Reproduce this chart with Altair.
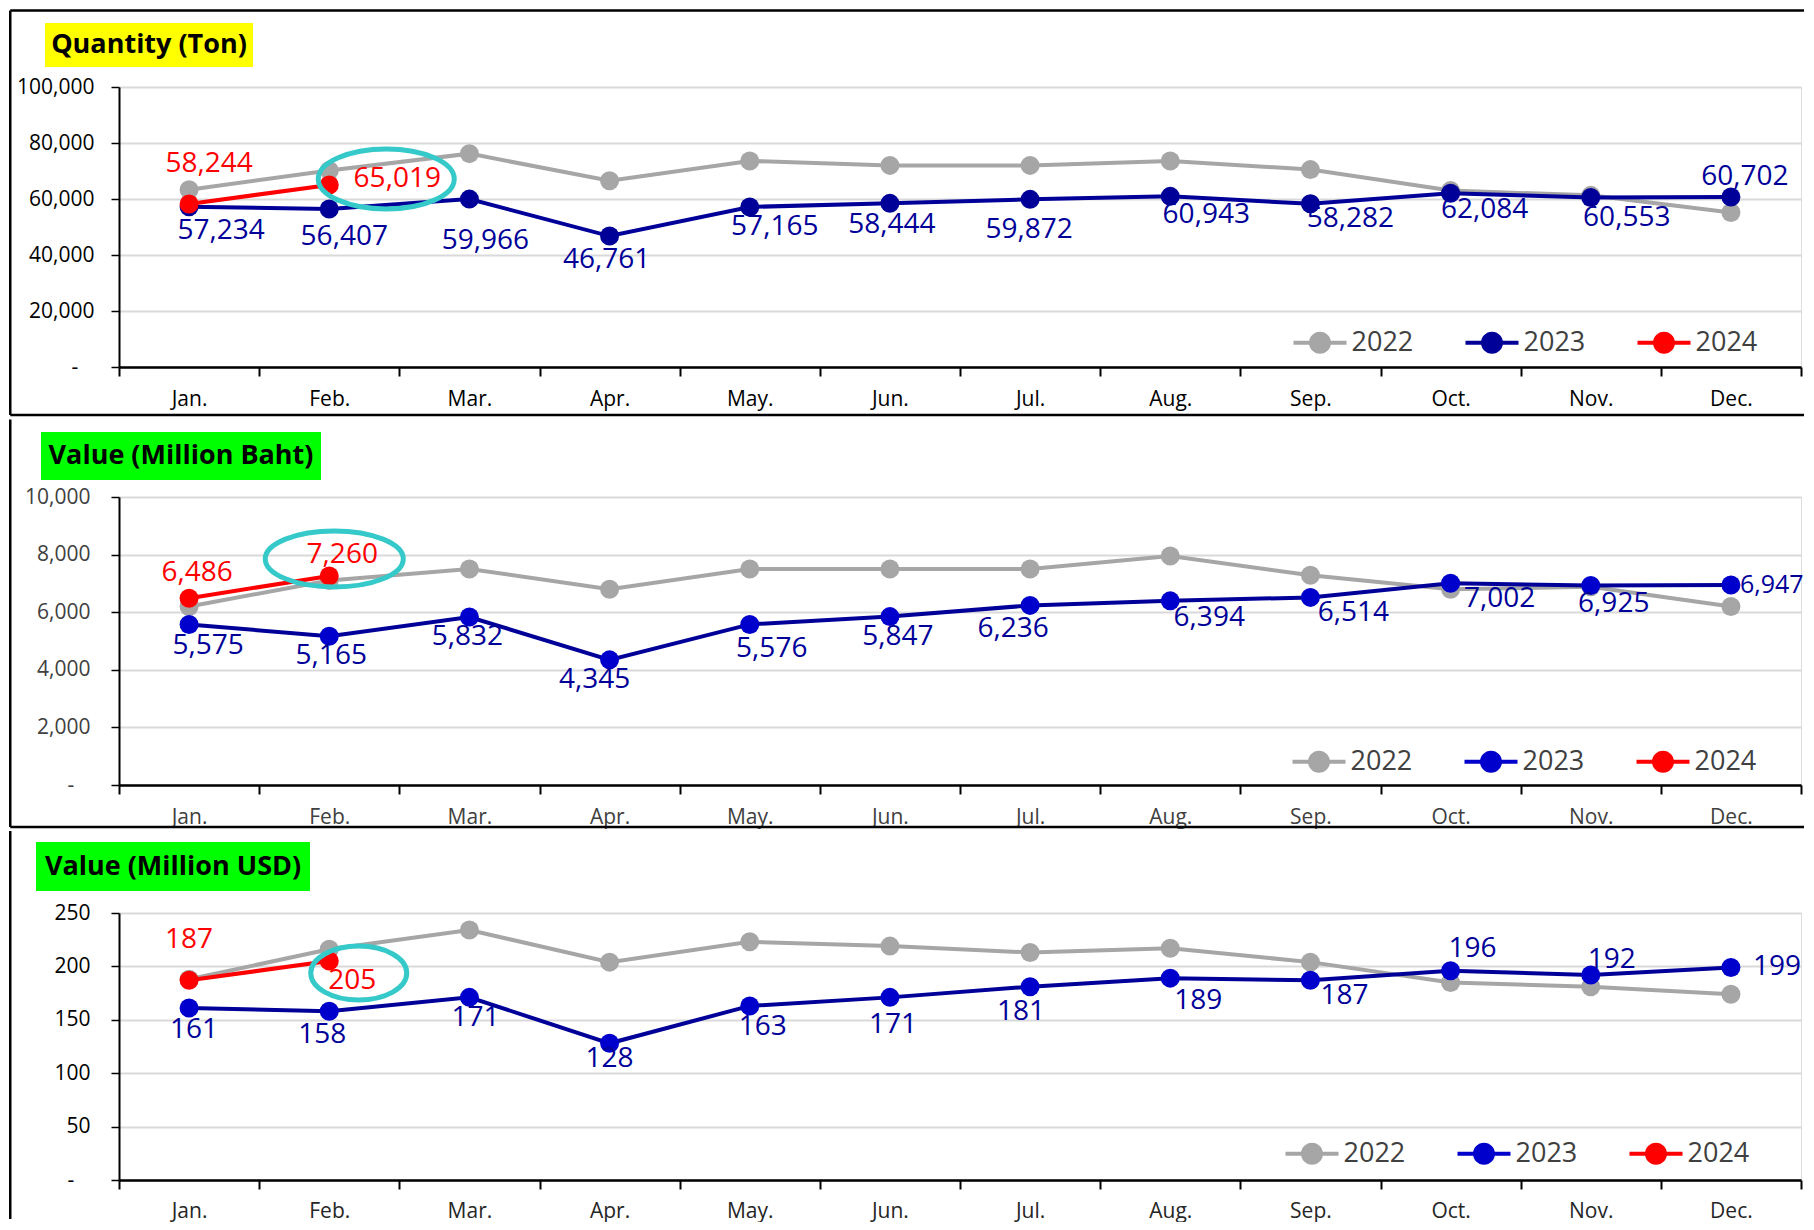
import altair as alt
import pandas as pd

# ---------------- data ----------------
months = ["Jan.", "Feb.", "Mar.", "Apr.", "May.", "Jun.", "Jul.", "Aug.", "Sep.", "Oct.", "Nov.", "Dec."]
years = ["2022", "2023", "2024"]

qty_2022 = [63300, 70200, 76200, 66500, 73600, 72000, 72000, 73600, 70500, 63000, 61300, 55200]
qty_2023 = [57234, 56407, 59966, 46761, 57165, 58444, 59872, 60943, 58282, 62084, 60553, 60702]
qty_2024 = [58244, 65019]

thb_2022 = [6200, 7100, 7500, 6800, 7500, 7500, 7500, 7950, 7280, 6800, 6880, 6200]
thb_2023 = [5575, 5165, 5832, 4345, 5576, 5847, 6236, 6394, 6514, 7002, 6925, 6947]
thb_2024 = [6486, 7260]

usd_2022 = [188, 216, 234, 204, 223, 219, 213, 217, 204, 185, 181, 174]
usd_2023 = [161, 158, 171, 128, 163, 171, 181, 189, 187, 196, 192, 199]
usd_2024 = [187, 205]

qty_ticks = [0, 20000, 40000, 60000, 80000, 100000]
thb_ticks = [0, 2000, 4000, 6000, 8000, 10000]
usd_ticks = [0, 50, 100, 150, 200, 250]

titles = ["Quantity (Ton)", "Value (Million Baht)", "Value (Million USD)"]

# ---------------- style helpers ----------------
FONT = "Open Sans"
ORIGIN_X = 118
W = 1800 - ORIGIN_X
LEFT = 9.25 - ORIGIN_X
RIGHT = W + 3


def ellipse(cx, cy, rx, ry):
    c = 0.5523
    f = lambda v: f"{v:.4f}"
    return (f"M {f(cx+rx)} {f(cy)} "
            f"C {f(cx+rx)} {f(cy+c*ry)} {f(cx+c*rx)} {f(cy+ry)} {f(cx)} {f(cy+ry)} "
            f"C {f(cx-c*rx)} {f(cy+ry)} {f(cx-rx)} {f(cy+c*ry)} {f(cx-rx)} {f(cy)} "
            f"C {f(cx-rx)} {f(cy-c*ry)} {f(cx-c*rx)} {f(cy-ry)} {f(cx)} {f(cy-ry)} "
            f"C {f(cx+c*rx)} {f(cy-ry)} {f(cx+rx)} {f(cy-c*ry)} {f(cx+rx)} {f(cy)} Z")


LEG_K = 26.5
LEG_SIZE = (2 * LEG_K) ** 2
_t = 2.0 / LEG_K
LEG_PATH = (f"M -1 {-_t:.4f} L 1 {-_t:.4f} L 1 {_t:.4f} L -1 {_t:.4f} Z "
            + ellipse(0, 0, 11 / LEG_K, 11 / LEG_K))

ELL_K = 50.0


def ell_path(ox, oy, rx, ry):
    return ellipse(ox / ELL_K, oy / ELL_K, rx / ELL_K, ry / ELL_K)


panels = [
    dict(vals=(qty_2022, qty_2023, qty_2024), ymax=100000, ticks=qty_ticks, title=titles[0],
         H=280, top_line=True, frame_top=-76.5, frame_bot=328, sep=328,
         title_bg="#FFFF00", title_box=(-74, 134, -64, -20), title_c=(30, -42),
         ylab="#000000", xlab="#000000", ypad=17, xpad=12,
         line_colors=["#A6A6A6", "#000099", "#FF0000"], point_colors=["#A6A6A6", "#000099", "#FF0000"],
         legend_xy=(1174.5, 229), ell=(57, -6, 68, 30),
         offs={"2023": [(32, 24), (15, 28), (16, 42), (-3, 24), (25, 20), (2, 22), (-1, 31), (36, 19),
                        (40, 15), (34, 17), (36, 21), (14, -20)],
               "2024": [(20, -40), (68, -6)]}),
    dict(vals=(thb_2022, thb_2023, thb_2024), ymax=10000, ticks=thb_ticks, title=titles[1],
         H=288, top_line=False, frame_top=-77.5, frame_bot=330, sep=330,
         title_bg="#00FF00", title_box=(-78, 202, -65, -17), title_c=(62, -41),
         ylab="#404040", xlab="#404040", ypad=21, xpad=12,
         line_colors=["#A6A6A6", "#000099", "#FF0000"], point_colors=["#A6A6A6", "#0000CC", "#FF0000"],
         legend_xy=(1173.5, 238), ell=(5, -17, 69, 28),
         offs={"2023": [(19, 22), (2, 20), (-2, 20), (-15, 20), (22, 25), (8, 20), (-17, 24), (39, 17),
                        (43, 16), (49, 16), (23, 18), (9, 0, "left", 25)],
               "2024": [(8, -25), (13, -21)]}),
    dict(vals=(usd_2022, usd_2023, usd_2024), ymax=250, ticks=usd_ticks, title=titles[2],
         H=267, top_line=False, frame_top=-82, frame_bot=306, sep=None,
         title_bg="#00FF00", title_box=(-83, 191, -71, -22), title_c=(54, -46),
         ylab="#000000", xlab="#262626", ypad=21, xpad=11,
         line_colors=["#A6A6A6", "#000099", "#FF0000"], point_colors=["#A6A6A6", "#0000CC", "#FF0000"],
         legend_xy=(1166.5, 214), ell=(29.5, 12, 48, 27),
         offs={"2023": [(5, 22), (-7, 24), (6, 21), (0, 16), (13, 21), (3, 28), (-9, 25), (28, 23),
                        (34, 16), (22, -22), (21, -15), (22, 0, "left")],
               "2024": [(0, -40), (23, 20)]}),
]

LABEL_COLORS = {"2023": "#000099", "2024": "#FF0000"}
ZERO_LABEL = "-\u00a0\u00a0\u00a0\u200b"


def make_panel(cfg):
    rows = []
    for yr, vals in zip(years, cfg["vals"]):
        for m, v in zip(months, vals):
            rows.append({"month": m, "year": yr, "value": v})
    df = pd.DataFrame(rows)
    one = pd.DataFrame({"k": [0]})
    H = cfg["H"]

    x = alt.X("month:N", sort=months,
              scale=alt.Scale(type="band", domain=months, paddingInner=0, paddingOuter=0),
              axis=alt.Axis(title=None, labelAngle=0, tickBand="extent", tickSize=9, tickWidth=2,
                            tickColor="#000000", domainColor="#000000", domainWidth=2.5,
                            labelPadding=cfg["xpad"], labelFont=FONT, labelFontSize=21,
                            labelColor=cfg["xlab"], grid=False))
    y = alt.Y("value:Q", scale=alt.Scale(domain=[0, cfg["ymax"]], nice=False, zero=True),
              axis=alt.Axis(title=None, values=cfg["ticks"],
                            labelExpr=f"datum.value == 0 ? '{ZERO_LABEL}' : format(datum.value, ',')",
                            grid=True, gridColor="#D9D9D9", gridWidth=2,
                            domainColor="#000000", domainWidth=2, tickColor="#000000", tickSize=8,
                            tickWidth=1.5, labelPadding=cfg["ypad"], labelFont=FONT, labelFontSize=21,
                            labelColor=cfg["ylab"]))
    pt_scale = alt.Scale(domain=years, range=cfg["point_colors"])

    layers = []

    def rule(x1, x2, y1, y2):
        return alt.Chart(one).mark_rule(color="#000000", strokeWidth=2.5).encode(
            x=alt.value(x1), x2=alt.value(x2), y=alt.value(y1), y2=alt.value(y2))

    # frame lines
    layers.append(rule(LEFT, LEFT, cfg["frame_top"], cfg["frame_bot"]))
    if cfg["top_line"]:
        layers.append(rule(LEFT, RIGHT, cfg["frame_top"], cfg["frame_top"]))
    if cfg["sep"] is not None:
        layers.append(rule(LEFT, RIGHT, cfg["sep"], cfg["sep"]))
    # title box
    bx1, bx2, by1, by2 = cfg["title_box"]
    layers.append(alt.Chart(one).mark_rect(color=cfg["title_bg"]).encode(
        x=alt.value(bx1), x2=alt.value(bx2), y=alt.value(by1), y2=alt.value(by2)))
    layers.append(alt.Chart(one).mark_text(text=cfg["title"], font=FONT, fontWeight="bold",
                                           fontSize=27, color="#000000", align="center",
                                           baseline="middle").encode(
        x=alt.value(cfg["title_c"][0]), y=alt.value(cfg["title_c"][1])))

    # series: line + markers, drawn year by year
    for i, yr in enumerate(years):
        sub = alt.Chart(df).transform_filter(alt.datum.year == yr)
        layers.append(sub.mark_line(color=cfg["line_colors"][i], strokeWidth=4).encode(x=x, y=y))
        if i == 0:
            leg = alt.Legend(orient="none", legendX=cfg["legend_xy"][0], legendY=cfg["legend_xy"][1],
                             direction="horizontal", title=None, symbolType=LEG_PATH,
                             symbolSize=LEG_SIZE, symbolStrokeWidth=0, symbolOpacity=1,
                             labelFont=FONT, labelFontSize=27, labelColor="#404040",
                             labelOffset=5, columnPadding=52, padding=0)
            col = alt.Color("year:N", scale=pt_scale, legend=leg)
        else:
            col = alt.Color("year:N", scale=pt_scale, legend=None)
        layers.append(sub.mark_point(filled=True, size=361, opacity=1, strokeWidth=0).encode(
            x=x, y=y, color=col))

    # highlight ellipse around the latest value
    ox_, oy_, rx, ry = cfg["ell"]
    layers.append(alt.Chart(df).transform_filter(
        (alt.datum.year == "2024") & (alt.datum.month == "Feb.")).mark_point(
        shape=ell_path(ox_, oy_, rx, ry), size=(2 * ELL_K) ** 2, filled=False,
        color="#36C9C9", strokeWidth=5, opacity=1).encode(x=x, y=y))

    # data labels
    for yr in ["2023", "2024"]:
        for m, off in zip(months, cfg["offs"][yr]):
            dx, dy = off[0], off[1]
            align = off[2] if len(off) > 2 else "center"
            fs = off[3] if len(off) > 3 else 28
            layers.append(alt.Chart(df).transform_filter(
                (alt.datum.year == yr) & (alt.datum.month == m)).mark_text(
                dx=dx, dy=dy, align=align, baseline="middle", font=FONT, fontSize=fs,
                color=LABEL_COLORS[yr]).encode(
                x=x, y=y, text=alt.Text("value:Q", format=",")))

    return alt.layer(*layers).properties(width=W, height=H)


charts = [make_panel(c) for c in panels]

chart = alt.vconcat(*charts, spacing=0).resolve_scale(
    color="independent", x="independent", y="independent").resolve_legend(
    color="independent").properties(padding=0, background="white").configure_view(
    stroke="transparent").configure(font=FONT)

chart.save("out.html", embed_options={"renderer": "svg", "actions": False})
